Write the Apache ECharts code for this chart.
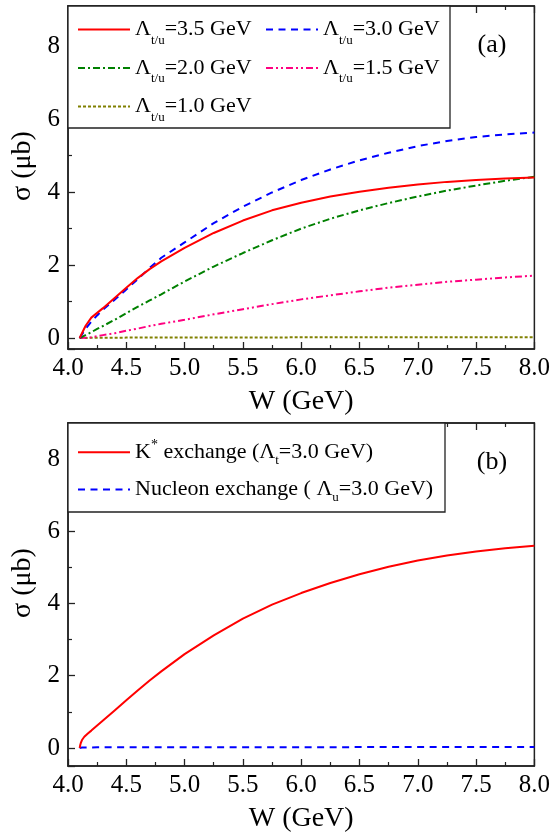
<!DOCTYPE html>
<html><head><meta charset="utf-8">
<script src="https://cdn.jsdelivr.net/npm/echarts@6/dist/echarts.min.js"></script>
<style>html,body{margin:0;padding:0;background:#fff}#c{width:553px;height:838px}</style>
</head><body><div id="c"></div>
<script>
// ---------- data: panel (a) ----------
const Wa = [4.1, 4.15, 4.2, 4.25, 4.3, 4.4, 4.5, 4.6, 4.7, 4.8, 5.0, 5.25, 5.5, 5.75, 6.0, 6.25, 6.5, 6.75, 7.0, 7.25, 7.5, 7.75, 8.0];
const sig35 = [0, 0.33, 0.56, 0.69, 0.82, 1.10, 1.38, 1.65, 1.89, 2.10, 2.47, 2.88, 3.22, 3.50, 3.71, 3.88, 4.01, 4.12, 4.21, 4.28, 4.33, 4.37, 4.40];
const sig30 = [0, 0.25, 0.45, 0.62, 0.78, 1.05, 1.33, 1.62, 1.92, 2.20, 2.62, 3.15, 3.60, 3.99, 4.33, 4.62, 4.87, 5.08, 5.26, 5.40, 5.51, 5.58, 5.63];
const sig20 = [0, 0.08, 0.16, 0.25, 0.33, 0.50, 0.68, 0.86, 1.03, 1.20, 1.55, 1.96, 2.33, 2.68, 3.00, 3.27, 3.50, 3.70, 3.88, 4.04, 4.18, 4.31, 4.42];
const sig15 = [0, 0.01, 0.02, 0.05, 0.08, 0.13, 0.20, 0.26, 0.33, 0.39, 0.50, 0.65, 0.79, 0.93, 1.06, 1.17, 1.28, 1.38, 1.46, 1.54, 1.60, 1.66, 1.71];
const sig10 = [0, 0.004, 0.006, 0.008, 0.01, 0.01, 0.012, 0.012, 0.013, 0.014, 0.015, 0.016, 0.017, 0.018, 0.019, 0.02, 0.02, 0.021, 0.022, 0.022, 0.023, 0.023, 0.024];
const lambdaLabels = ['3.5', '3.0', '2.0', '1.5', '1.0'];
// ---------- data: panel (b) ----------
const Wb = [4.1, 4.105, 4.11, 4.12, 4.14, 4.17, 4.2, 4.25, 4.3, 4.4, 4.5, 4.6, 4.7, 4.8, 5.0, 5.25, 5.5, 5.75, 6.0, 6.25, 6.5, 6.75, 7.0, 7.25, 7.5, 7.75, 8.0];
const sigK = [0, 0.08, 0.14, 0.22, 0.31, 0.40, 0.48, 0.62, 0.76, 1.04, 1.32, 1.60, 1.87, 2.12, 2.60, 3.12, 3.58, 3.97, 4.29, 4.57, 4.81, 5.02, 5.19, 5.33, 5.44, 5.53, 5.60];
const sigN = [0, 0.005, 0.008, 0.01, 0.012, 0.014, 0.015, 0.016, 0.016, 0.017, 0.018, 0.018, 0.019, 0.019, 0.02, 0.02, 0.021, 0.021, 0.022, 0.022, 0.023, 0.023, 0.024, 0.024, 0.025, 0.025, 0.025];
const xTicks = [4.0, 8.0, 0.5];
const yTicks = [0, 2, 4, 6, 8];

const FONT = 'Liberation Serif';
const INK = '#222';
const chart = echarts.init(document.getElementById('c'), null, {renderer: 'canvas'});

function pairs(xs, ys) { return xs.map((x, i) => [x, ys[i]]); }
const namesA = lambdaLabels.map(v => 'Λt/u=' + v + ' GeV');
const nameK = 'K* exchange (Λt=3.0 GeV)';
const nameN = 'Nucleon exchange ( Λu=3.0 GeV)';

const labelMap = {};
lambdaLabels.forEach((v, i) => { labelMap[namesA[i]] = '{m|Λ}{sa|t/u}{m|=' + v + ' GeV}'; });
labelMap[nameK] = '{m|K}{sup|*}{m| exchange (Λ}{sb|t}{m|=3.0 GeV)}';
labelMap[nameN] = '{m|Nucleon exchange ( Λ}{sb|u}{m|=3.0 GeV)}';

const rich = {
  m: {fontFamily: FONT, fontSize: 22, color: '#000', lineHeight: 24},
  sa: {fontFamily: FONT, fontSize: 13, color: '#000', lineHeight: 12, padding: [22, 0, 0, 0]},
  sb: {fontFamily: FONT, fontSize: 13, color: '#000', lineHeight: 12, padding: [16, 0, 0, 0]},
  sup: {fontFamily: FONT, fontSize: 14, color: '#000', lineHeight: 12, padding: [0, 0, 13, 0]}
};

function legend(data, left, top, gap) {
  return {
    data: data, orient: 'vertical', left: left, top: top, padding: 0,
    itemWidth: 52, itemHeight: 2, itemGap: gap, selectedMode: false,
    itemStyle: {opacity: 0},
    formatter: n => labelMap[n],
    textStyle: {fontFamily: FONT, fontSize: 22, color: '#000', rich: rich}
  };
}

function xAx(grid, top) {
  return {
    type: 'value', gridIndex: grid, position: top ? 'top' : 'bottom',
    min: xTicks[0], max: xTicks[1], interval: xTicks[2],
    axisLine: {show: true, onZero: false, lineStyle: {color: INK, width: 1.5}},
    axisTick: {show: true, inside: true, length: 7, lineStyle: {color: INK, width: 1.3}},
    minorTick: {show: true, splitNumber: 2, length: 4, lineStyle: {color: INK, width: 1.2}},
    splitLine: {show: false},
    axisLabel: top ? {show: false} : {show: true, margin: 7, fontFamily: FONT, fontSize: 25, color: '#000', formatter: v => v.toFixed(1)},
    name: top ? '' : 'W (GeV)', nameLocation: 'middle', nameGap: 39,
    nameTextStyle: {fontFamily: FONT, fontSize: 28, color: '#000'}
  };
}
function yAx(grid, min, max) {
  return {
    type: 'value', gridIndex: grid, min: min, max: max, splitNumber: 5,
    axisLine: {show: true, onZero: false, lineStyle: {color: INK, width: 1.5}},
    axisTick: {show: true, inside: true, length: 7, lineStyle: {color: INK, width: 1.3}},
    minorTick: {show: true, splitNumber: 2, length: 4, lineStyle: {color: INK, width: 1.2}},
    splitLine: {show: false},
    axisLabel: {show: true, margin: 8, fontFamily: FONT, fontSize: 25, color: '#000',
      formatter: v => (yTicks.some(t => Math.abs(t - v) < 1e-9) ? String(Math.round(v)) : '')},
    name: 'σ (μb)', nameLocation: 'middle', nameGap: 31,
    nameTextStyle: {fontFamily: FONT, fontSize: 28, color: '#000', padding: [0, 0, 0, 23]}
  };
}
function line(name, xs, ys, color, type, xi, yi) {
  return {
    type: 'line', name: name, xAxisIndex: xi, yAxisIndex: yi, data: pairs(xs, ys),
    symbol: 'none', showSymbol: false, smooth: false, silent: true, clip: true,
    lineStyle: {color: color, width: 2, type: type}, itemStyle: {color: color}
  };
}

const option = {
  animation: false,
  backgroundColor: '#fff',
  grid: [
    {left: 68, right: 18.5, top: 6, bottom: 489, show: true, borderColor: INK, borderWidth: 1.5},
    {left: 68, right: 18.5, top: 423, bottom: 72, show: true, borderColor: INK, borderWidth: 1.5}
  ],
  xAxis: [xAx(0, false), xAx(0, true), xAx(1, false), xAx(1, true)],
  yAxis: [yAx(0, -0.3, 9.1), yAx(1, -0.5, 9.0)],
  legend: [
    legend([namesA[0], namesA[2], namesA[4]], 77, 12, 3.5),
    legend([namesA[1], namesA[3]], 265, 12, 3.5),
    legend([nameK, nameN], 77, 437.7, 8.3)
  ],
  graphic: [
    {type: 'rect', z: 3, shape: {x: 68, y: 6, width: 382, height: 122}, style: {fill: '#fff', stroke: INK, lineWidth: 1.3}},
    {type: 'rect', z: 3, shape: {x: 68, y: 423, width: 377, height: 89}, style: {fill: '#fff', stroke: INK, lineWidth: 1.3}},
    {type: 'text', z: 5, x: 492, y: 45, style: {text: '(a)', font: '26px "Liberation Serif"', fill: '#000', align: 'center', verticalAlign: 'middle'}},
    {type: 'text', z: 5, x: 492, y: 462, style: {text: '(b)', font: '26px "Liberation Serif"', fill: '#000', align: 'center', verticalAlign: 'middle'}}
  ],
  series: [
    line(namesA[4], Wa, sig10, '#808000', [3, 2], 0, 0),
    line(namesA[3], Wa, sig15, '#FF0080', [7, 3, 2, 3, 2, 3], 0, 0),
    line(namesA[2], Wa, sig20, '#008000', [7, 3, 2, 3], 0, 0),
    line(namesA[1], Wa, sig30, '#0000FF', [7, 5.5], 0, 0),
    line(namesA[0], Wa, sig35, '#FF0000', 'solid', 0, 0),
    line(nameN, Wb, sigN, '#0000FF', [7, 5.5], 2, 1),
    line(nameK, Wb, sigK, '#FF0000', 'solid', 2, 1)
  ]
};
chart.setOption(option);
</script></body></html>
